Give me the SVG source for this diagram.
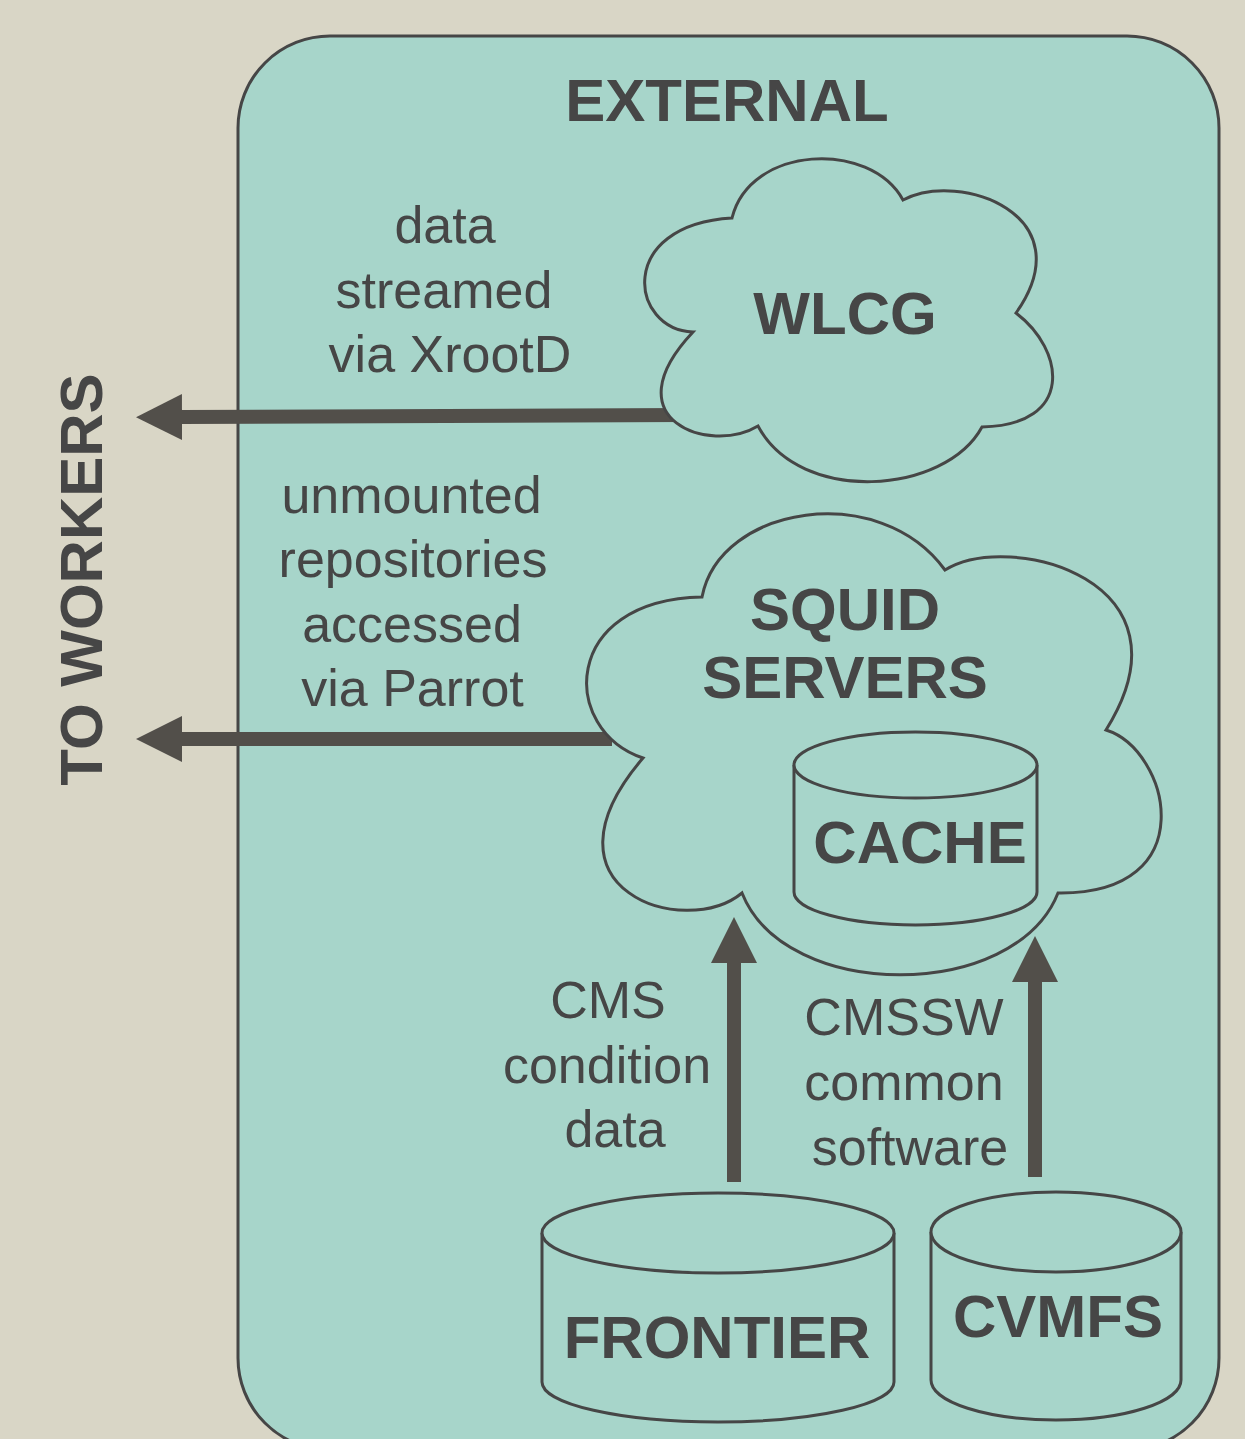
<svg xmlns="http://www.w3.org/2000/svg" width="1245" height="1439" viewBox="0 0 1245 1439">
  <style>
    .shape { fill: #a7d5ca; stroke: #464646; stroke-width: 3; }
    .title { font-family: "Liberation Sans", Arial, sans-serif; font-weight: bold; font-size: 60px; fill: #464646; text-anchor: middle; }
    .label { font-family: "Liberation Sans", Arial, sans-serif; font-size: 52px; fill: #464646; text-anchor: middle; }
    .arrow { stroke: #524f4a; stroke-width: 14; fill: none; marker-end: url(#head); }
  </style>
  <defs>
    <marker id="head" markerUnits="userSpaceOnUse" markerWidth="46" markerHeight="46" viewBox="0 0 46 46" refX="0" refY="23" orient="auto">
      <path d="M0,0 L46,23 L0,46 Z" fill="#524f4a"/>
    </marker>
  </defs>
  <rect x="0" y="0" width="1245" height="1439" fill="#d9d6c6"/>

  <g id="external">
    <rect class="shape" x="238" y="36" width="981" height="1414" rx="92" ry="92" stroke-width="3.5"/>
    <text class="title" x="727" y="121">EXTERNAL</text>
  </g>

  <g id="to-workers">
    <text class="title" transform="translate(102,579.5) rotate(-90)" x="0" y="0">TO WORKERS</text>
  </g>

  <g id="connectors">
    <line class="arrow" x1="685" y1="415" x2="182" y2="417"/>
    <line class="arrow" x1="612" y1="739" x2="182" y2="739"/>
    <line class="arrow" x1="734" y1="1182" x2="734" y2="963"/>
    <line class="arrow" x1="1035" y1="1177" x2="1035" y2="982"/>
  </g>

  <g id="wlcg">
    <path class="shape" d="M732,218 C750,145 870,140 903,200 C960,170 1085,215 1016,313 C1065,350 1075,425 982,427 C945,495 800,505 758,426 C710,455 610,420 693,332 C630,330 615,225 732,218 Z"/>
    <text class="title" x="845" y="334">WLCG</text>
  </g>

  <g id="squid">
    <path class="shape" d="M702,597 C720,505 880,480 945,570 C1010,530 1200,580 1106,730 C1170,750 1205,895 1058,893 C1015,1002 785,1002 742,893 C685,940 530,890 643,758 C560,730 560,600 702,597 Z"/>
    <text class="title" x="845" y="630">SQUID</text>
    <text class="title" x="845" y="698">SERVERS</text>
  </g>

  <g id="cache">
    <path class="shape" d="M794,765 L794,892 A121.5,33 0 0 0 1037,892 L1037,765"/>
    <ellipse class="shape" cx="915.5" cy="765" rx="121.5" ry="33"/>
    <text class="title" x="920" y="863">CACHE</text>
  </g>

  <g id="frontier">
    <path class="shape" d="M542,1233 L542,1382 A176,40 0 0 0 894,1382 L894,1233"/>
    <ellipse class="shape" cx="718" cy="1233" rx="176" ry="40"/>
    <text class="title" x="717" y="1358">FRONTIER</text>
  </g>

  <g id="cvmfs">
    <path class="shape" d="M931,1232 L931,1380 A125,40 0 0 0 1181,1380 L1181,1232"/>
    <ellipse class="shape" cx="1056" cy="1232" rx="125" ry="40"/>
    <text class="title" x="1058" y="1337">CVMFS</text>
  </g>

  <g id="labels">
    <text class="label" x="445" y="243">data</text>
    <text class="label" x="444" y="308">streamed</text>
    <text class="label" x="450" y="372">via XrootD</text>

    <text class="label" x="411.5" y="513">unmounted</text>
    <text class="label" x="413" y="577">repositories</text>
    <text class="label" x="412" y="642">accessed</text>
    <text class="label" x="412.5" y="706">via Parrot</text>

    <text class="label" x="608" y="1018">CMS</text>
    <text class="label" x="607" y="1083">condition</text>
    <text class="label" x="615" y="1147">data</text>

    <text class="label" x="904" y="1035">CMSSW</text>
    <text class="label" x="904" y="1100">common</text>
    <text class="label" x="910" y="1165">software</text>
  </g>
</svg>
